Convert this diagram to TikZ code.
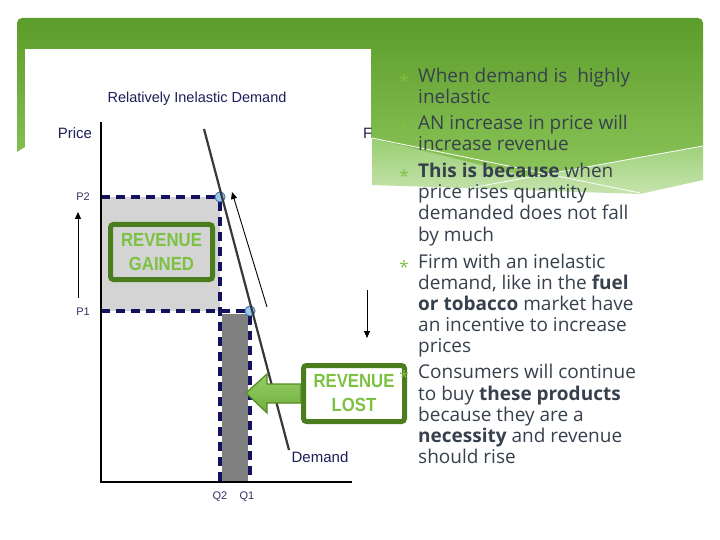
\documentclass[tikz,border=0pt]{standalone}
\usepackage{fontspec}
\setmainfont{Open Sans}
\newfontfamily\arial{Liberation Sans}
\usetikzlibrary{arrows.meta}
\definecolor{hdrtop}{HTML}{5C9C2A}
\definecolor{hdrbot}{HTML}{8CC55A}
\definecolor{lgtop}{HTML}{98CD70}
\definecolor{lgbot}{HTML}{C6E4AE}
\definecolor{navy}{HTML}{1E1E5A}
\definecolor{dashnavy}{HTML}{12125E}
\definecolor{gainfill}{HTML}{D4D4D4}
\definecolor{lostfill}{HTML}{808080}
\definecolor{boxgreen}{HTML}{4B7D1F}
\definecolor{revgreen}{HTML}{7CC242}
\definecolor{bodytext}{HTML}{37414D}
\definecolor{bulletgreen}{HTML}{7DC242}
\definecolor{ptfill}{HTML}{9CC8EE}
\definecolor{ptdraw}{HTML}{4A7AB0}
\begin{document}
\begin{tikzpicture}[x=1pt,y=-1pt,
  dashline/.style={draw=dashnavy,line width=3.2pt,dash pattern=on 9pt off 6pt},
  eqpt/.style={circle,fill=ptfill,draw=ptdraw,line width=0.8pt,inner sep=0pt,minimum size=10pt},
  chartlbl/.style={font=\arial\fontsize{15}{17}\selectfont,text=navy,inner sep=0pt},
  smalllbl/.style={font=\arial\fontsize{11}{13}\selectfont,text=navy!80!gray,inner sep=0pt},
  revbox/.style={draw=boxgreen,line width=5pt,rounded corners=3pt,inner sep=0pt,align=center,
    font=\arial\bfseries\fontsize{19}{24}\selectfont,text=revgreen},
  thinarrow/.style={line width=0.9pt,-{Triangle[length=7pt,width=6pt]}},
  bodyline/.style={anchor=base west,inner sep=0pt,font=\fontsize{19}{21}\selectfont,text=bodytext},
  bulletmark/.style={anchor=base,inner sep=0pt,font=\fontsize{17}{17}\selectfont,text=bulletgreen}]
\useasboundingbox (0,0) rectangle (720,540);
\fill[white] (0,0) rectangle (720,540);
% header
\shade[top color=lgtop,bottom color=lgbot] (372,137) -- (530,176) -- (703,146) -- (703,180) -- (640,194) -- (372,185) -- cycle;
\shade[top color=hdrtop,bottom color=hdrbot] (17,152) [rounded corners=5pt]-- (17,18) -- (703,18) [sharp corners]-- (703,146) -- (530,177) -- (372,138) -- (25,147) -- cycle;
\draw[white,line width=0.8pt] (372,138) -- (640,193);
\draw[white,line width=0.8pt] (470,188) -- (703,146);
% chart picture
\fill[white] (25,49) rectangle (371,520);
\fill[gainfill] (101,197) rectangle (220,311);
\fill[lostfill] (222,314) rectangle (248,482);
\node[eqpt] (p2pt) at (220,197) {};
\node[eqpt] (p1pt) at (250,311) {};
\coordinate (p2y) at (101,197);
\coordinate (p1y) at (101,311);
\coordinate (q2x) at (220,482);
\coordinate (q1x) at (250,482);
\draw[dashline] (p2y) -- (p2pt.west);
\draw[dashline] (p2pt.south) -- (q2x);
\draw[dashline] (p1y) -- (p1pt.west);
\draw[dashline] (p1pt.south) -- (q1x);
\node[eqpt] at (p2pt) {};
\node[eqpt] at (p1pt) {};
\coordinate (ytop) at (101,122);
\coordinate (orig) at (101,482);
\coordinate (xend) at (352,482);
\draw[line width=1.8pt,black] (ytop) -- (orig) -- (xend);
\coordinate (dtop) at (204,129);
\coordinate (dbot) at (289,450);
\draw[line width=2.2pt,black!78] (dtop) -- (dbot);
\coordinate (a1s) at (267,307);
\coordinate (a1e) at (232,192);
\draw[thinarrow] (a1s) -- (a1e);
\coordinate (a2s) at (78,298);
\coordinate (a2e) at (78,212);
\draw[thinarrow] (a2s) -- (a2e);
\coordinate (a3s) at (367,290);
\coordinate (a3e) at (367,338);
\draw[thinarrow] (a3s) -- (a3e);
\node[chartlbl,font=\arial\fontsize{14.5}{16}\selectfont] (title) at (197,99) {Relatively Inelastic Demand};
\node[chartlbl] (price) at (75,133) {Price};
\node[chartlbl,anchor=west] (pcut) at (363,133) {F};
\node[smalllbl] (p2lbl) at (83,197) {P2};
\node[smalllbl] (p1lbl) at (83,312) {P1};
\node[smalllbl] (q2lbl) at (220,497) {Q2};
\node[smalllbl] (q1lbl) at (247,497) {Q1};
\node[chartlbl] (dlbl) at (320,457) {Demand};
\node[revbox,fill=gainfill,minimum width=102pt,minimum height=55pt] (gained) at (161.5,252) {\scalebox{0.88}[1]{REVENUE}\\\scalebox{0.88}[1]{GAINED}};
\node[revbox,fill=white,minimum width=101pt,minimum height=56pt] (lost) at (354,393.5) {\scalebox{0.88}[1]{REVENUE}\\\scalebox{0.88}[1]{LOST}};
\shade[top color=revgreen!80!white,bottom color=revgreen!90!black,draw=boxgreen!80!revgreen,line width=1.2pt]
  (246,393) -- (267,374) -- (267,384) -- (lost.west |- 0,384) -- (lost.west |- 0,403) -- (267,403) -- (267,413) -- cycle;
% bullets
\node[bulletmark] (b1) at (404,88) {*};
\node[bulletmark] (b2) at (404,135) {*};
\node[bulletmark] (b3) at (404,183) {*};
\node[bulletmark] (b4) at (404,273) {*};
\node[bulletmark] (b5) at (404,383) {*};
\node[bodyline] (l1) at (418,83) {When demand is \ highly};
\node[bodyline] (l2) at (418,104) {inelastic};
\node[bodyline] (l3) at (418,130) {AN increase in price will};
\node[bodyline] (l4) at (418,151) {increase revenue};
\node[bodyline] (l5) at (418,178) {\textbf{This is because} when};
\node[bodyline] (l6) at (418,199) {price rises quantity};
\node[bodyline] (l7) at (418,220) {demanded does not fall};
\node[bodyline] (l8) at (418,241) {by much};
\node[bodyline] (l9) at (418,268) {Firm with an inelastic};
\node[bodyline] (l10) at (418,289) {demand, like in the \textbf{fuel}};
\node[bodyline] (l11) at (418,310) {\textbf{or tobacco} market have};
\node[bodyline] (l12) at (418,331) {an incentive to increase};
\node[bodyline] (l13) at (418,352) {prices};
\node[bodyline] (l14) at (418,378) {Consumers will continue};
\node[bodyline] (l15) at (418,400) {to buy \textbf{these products}};
\node[bodyline] (l16) at (418,421) {because they are a};
\node[bodyline] (l17) at (418,442) {\textbf{necessity} and revenue};
\node[bodyline] (l18) at (418,463) {should rise};
\end{tikzpicture}
\end{document}
